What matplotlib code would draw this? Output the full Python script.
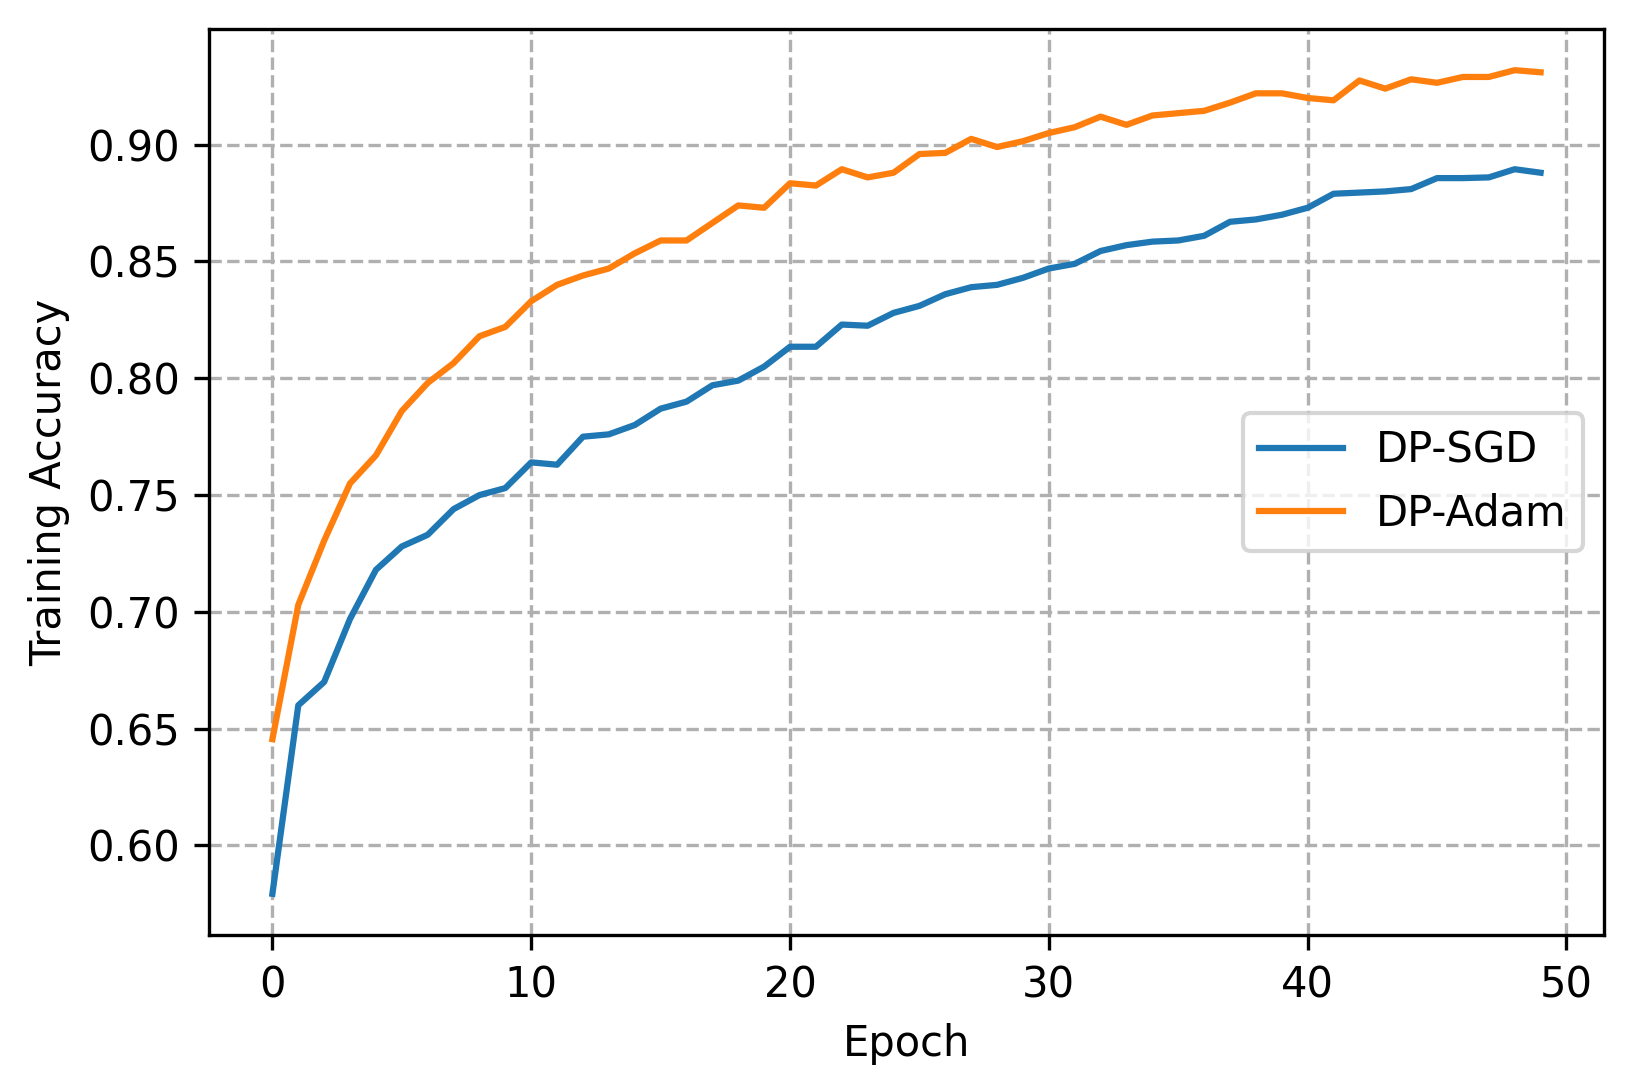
import matplotlib
matplotlib.use("Agg")
import matplotlib.pyplot as plt
import numpy as np

epochs = list(range(50))
dp_sgd = [0.5793, 0.660, 0.670, 0.697, 0.718, 0.728, 0.733, 0.744, 0.750, 0.753,
          0.764, 0.763, 0.775, 0.776, 0.780, 0.787, 0.790, 0.797, 0.799, 0.805,
          0.8135, 0.8135, 0.823, 0.8225, 0.828, 0.831, 0.836, 0.839, 0.840, 0.843,
          0.847, 0.849, 0.8545, 0.857, 0.8585, 0.859, 0.861, 0.867, 0.868, 0.870,
          0.873, 0.879, 0.8795, 0.880, 0.881, 0.8857, 0.8857, 0.886, 0.8895, 0.888]
dp_adam = [0.6455, 0.703, 0.7305, 0.755, 0.767, 0.786, 0.798, 0.8065, 0.818, 0.822,
           0.833, 0.840, 0.844, 0.847, 0.8535, 0.859, 0.859, 0.8665, 0.874, 0.873,
           0.8835, 0.8825, 0.8895, 0.886, 0.888, 0.896, 0.8965, 0.9025, 0.899, 0.9015,
           0.905, 0.9075, 0.912, 0.9085, 0.9125, 0.9135, 0.9145, 0.918, 0.922, 0.922,
           0.920, 0.919, 0.9275, 0.924, 0.928, 0.9265, 0.929, 0.929, 0.9319, 0.931]

fig = plt.figure(figsize=(1633/300, 1091/300), dpi=300)
ax = fig.add_axes([209/1633, 1 - 935/1091, (1604-209)/1633, (935-29)/1091])
ax.plot(epochs, dp_sgd, label="DP-SGD", color="#1f77b4", linewidth=1.5)
ax.plot(epochs, dp_adam, label="DP-Adam", color="#ff7f0e", linewidth=1.5)
ax.set_xlabel("Epoch", fontsize=10)
ax.set_ylabel("Training Accuracy", fontsize=10)
ax.grid(True, linestyle="--", color="#b0b0b0")
ax.legend(loc="center right", fontsize=10)
fig.savefig("out.png", dpi=300)
